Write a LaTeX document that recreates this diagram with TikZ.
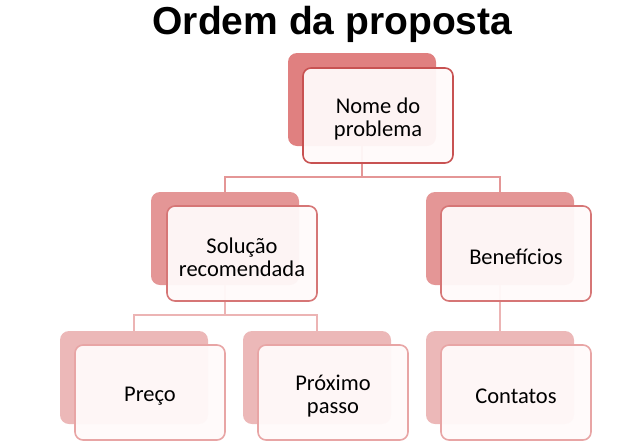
\documentclass[tikz,border=0pt]{standalone}
\usepackage{fontspec}
\setmainfont{Carlito}
\newfontfamily\titlefont{Liberation Sans}
\definecolor{backA}{RGB}{224,128,128}
\definecolor{backB}{RGB}{228,150,150}
\definecolor{backC}{RGB}{236,184,184}
\definecolor{edgeA}{RGB}{200,82,82}
\definecolor{edgeB}{RGB}{214,118,118}
\definecolor{edgeC}{RGB}{232,165,165}
\definecolor{frontfill}{RGB}{255,250,250}
\definecolor{connA}{RGB}{228,150,150}
\definecolor{connB}{RGB}{236,180,180}
\begin{document}
\begin{tikzpicture}[x=1pt,y=-1pt,
  backbox/.style={draw=none, rounded corners=9pt, minimum width=148pt, minimum height=93pt, inner sep=0pt, outer sep=0pt, anchor=north west},
  frontbox/.style={rounded corners=8pt, minimum width=150pt, minimum height=95pt, inner sep=0pt, outer sep=0pt, anchor=north west, fill=frontfill, fill opacity=0.95, line width=1.6pt},
  txt/.style={align=center, font=\fontsize{22.5}{23}\selectfont, inner sep=0pt, text=black},
  connA/.style={draw=connA, line width=1.8pt},
  connB/.style={draw=connB, line width=1.8pt}]
\useasboundingbox (0,0) rectangle (639,445);
\node[font=\titlefont\bfseries\fontsize{39}{44}\selectfont, anchor=base, inner sep=0pt] (title) at (332.5,34) {Ordem da proposta};
% back boxes
\node[backbox, fill=backA] (b1) at (288,53) {};
\node[backbox, fill=backB] (b2) at (151,192) {};
\node[backbox, fill=backB] (b3) at (426,192) {};
\node[backbox, fill=backC] (b4) at (60,331) {};
\node[backbox, fill=backC] (b5) at (243,331) {};
\node[backbox, fill=backC] (b6) at (426,331) {};
% connectors
\coordinate (bus1) at (0,177);
\coordinate (bus2) at (0,315);
\draw[connA] (b1.south) -- (b1.south |- bus1) -| (b2.north);
\draw[connA] (b1.south |- bus1) -| (b3.north);
\draw[connB] (b2.south) -- (b2.south |- bus2) -| (b4.north);
\draw[connB] (b2.south |- bus2) -| (b5.north);
\draw[connB] (b3.south) -- (b6.north);
% front boxes
\node[frontbox, draw=edgeA] (f1) at (303,68) {};
\node[frontbox, draw=edgeB] (f2) at (167,206) {};
\node[frontbox, draw=edgeB] (f3) at (441,206) {};
\node[frontbox, draw=edgeC] (f4) at (75,345) {};
\node[frontbox, draw=edgeC] (f5) at (258,345) {};
\node[frontbox, draw=edgeC] (f6) at (441,345) {};
% texts
\node[txt] (t1) at ([yshift=-3.5pt]f1.center) {Nome do\\problema};
\node[txt] (t2) at ([yshift=-3.5pt]f2.center) {Solução\\recomendada};
\node[txt] (t3) at ([yshift=-3.5pt]f3.center) {Benefícios};
\node[txt] (t4) at ([yshift=-3.5pt]f4.center) {Preço};
\node[txt] (t5) at ([yshift=-3.5pt]f5.center) {Próximo\\passo};
\node[txt] (t6) at ([yshift=-3.5pt]f6.center) {Contatos};
\end{tikzpicture}
\end{document}
